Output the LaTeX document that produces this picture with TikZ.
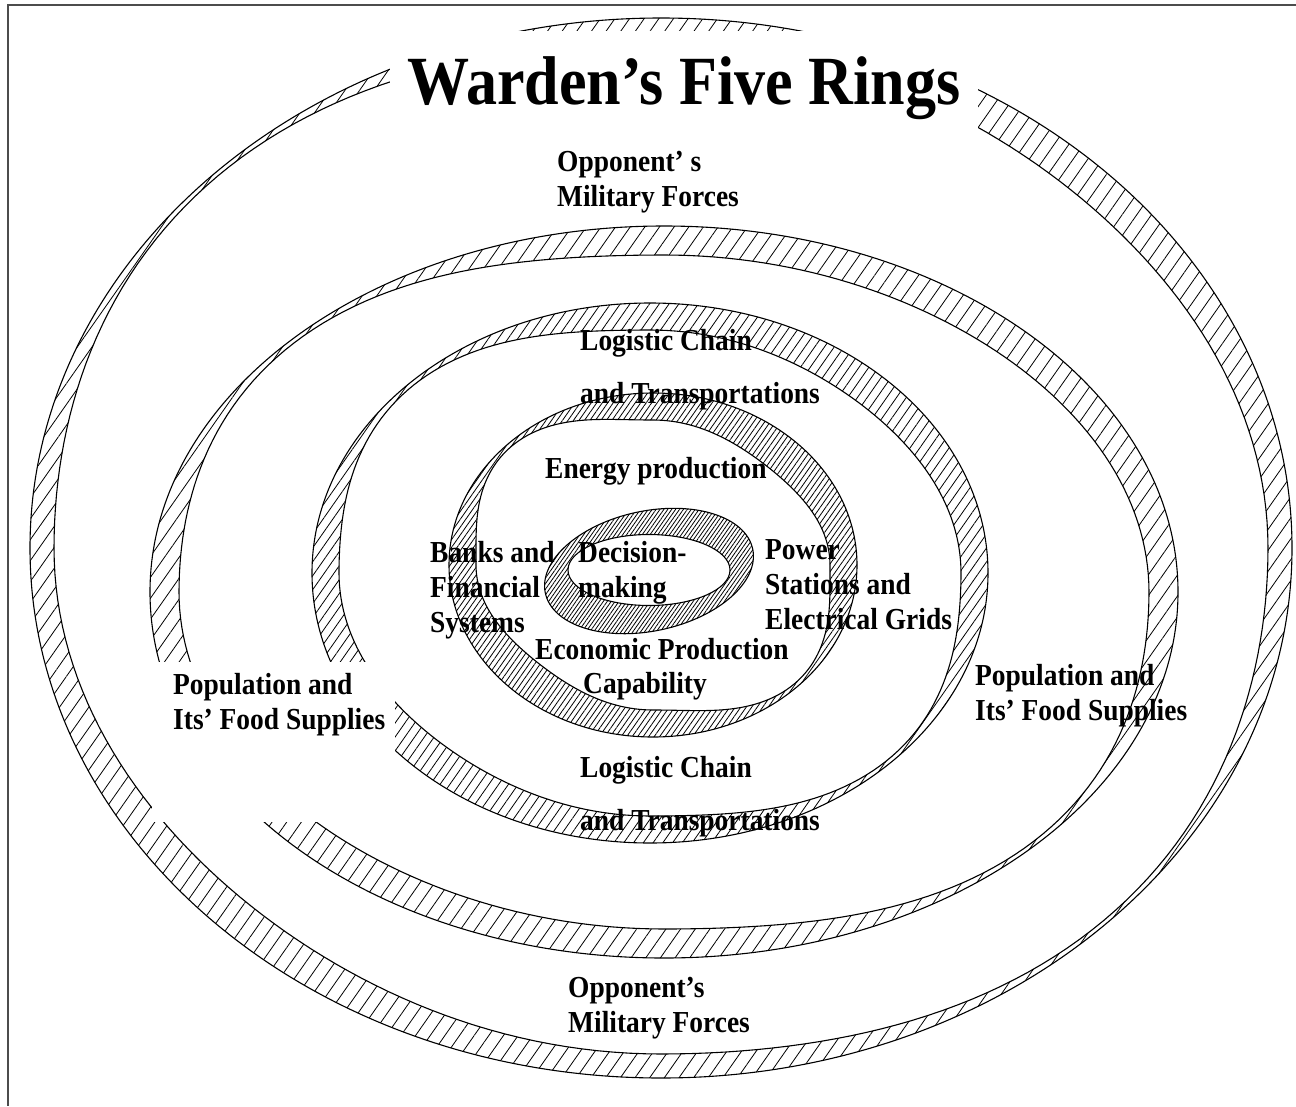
\documentclass[tikz,border=0pt]{standalone}
\usepackage{fontspec}
\newfontfamily\ringfont{Liberation Serif}[FakeStretch=0.9]
\usetikzlibrary{
  patterns.meta % For the hatching of the rings
}

\begin{document}
\begin{tikzpicture}[
      x=1pt, y=-1pt, % one unit = one pixel, y pointing down
      ringline/.style={black, line width=1.1pt, even odd rule}, % Style for the rings
      hatch/.style={pattern={Lines[angle=55, distance=#1, line width=0.8pt]}},
      lbl/.style={font=\ringfont\bfseries\fontsize{30.5}{35}\selectfont,
        anchor=base west, inner sep=0pt, align=left}, % base = last line
      title/.style={font=\ringfont\bfseries\fontsize{69}{80}\selectfont,
        anchor=base, fill=white, inner xsep=17pt, inner ysep=25pt},
      declare function={
        band(\w,\bt,\bd,\be)=\bt-\bd*max(sin(2*\w),0)*max(sin(2*\w),0)
                               +\be*max(-sin(2*\w),0)*max(-sin(2*\w),0);
      },
    ]
    \useasboundingbox (0,0) rectangle (1296,1106);

    % Rahmen
    \coordinate (TR) at (1296,5);
    \coordinate (TL) at (8,5);
    \coordinate (BL) at (8,1106);
    \draw[black!70, line width=2pt] (TR) -- (TL) -- (BL);

    % Ringe: Mitte, Halbachsen, Breite, Verduennung, Verdickung, Schraffur
    \foreach \cx/\cy/\ra/\rb/\bw/\bn/\bk/\hd in {
        661/548/631/530/24/20/12/12,
        664/592/514/366/29/25/4/12,
        650/573/338/270/27/23/8/8,
        653/565/204/172/27/23/10/4.5}
    \draw[ringline, hatch=\hd pt]
      (\cx,\cy) ellipse [x radius=\ra, y radius=\rb]
      plot[domain=0:360, samples=241]
        ({\cx+(\ra-band(\x,\bw,\bn,\bk))*cos(\x)},
         {\cy+(\rb-band(\x,\bw,\bn,\bk))*sin(\x)}) -- cycle;

    % Innerster Ring
    \draw[ringline, hatch=3.2pt]
      (649,571) ellipse [x radius=106, y radius=60, rotate=12]
      (649,570) ellipse [x radius=81, y radius=35.5];

    % Abdeckung links
    \fill[white] (152,662) rectangle (395,822);

    % Titel
    \node[title] (title) at (684,104) {Warden’s Five Rings};

    % Beschriftungen der Ringe
    \node[lbl] (oppA)   at (557,206) {Opponent’ s\\Military Forces};
    \node[lbl] (logA)   at (580,403) {Logistic Chain\\[18pt]and Transportations};
    \node[lbl] (energy) at (545,478) {Energy production};
    \node[lbl] (banks)  at (430,632) {Banks and\\Financial\\Systems};
    \node[lbl] (decide) at (578,597) {Decision-\\making};
    \node[lbl] (power)  at (765,629) {Power\\Stations and\\Electrical Grids};
    \node[lbl] (econ)   at (535,659) {Economic Production};
    \node[lbl] (capab)  at (583,693) {Capability};
    \node[lbl] (popL)   at (173,729) {Population and\\Its’ Food Supplies};
    \node[lbl] (popR)   at (975,720) {Population and\\Its’ Food Supplies};
    \node[lbl] (logB)   at (580,830) {Logistic Chain\\[18pt]and Transportations};
    \node[lbl] (oppB)   at (568,1032) {Opponent’s\\Military Forces};

  \end{tikzpicture}
\end{document}
